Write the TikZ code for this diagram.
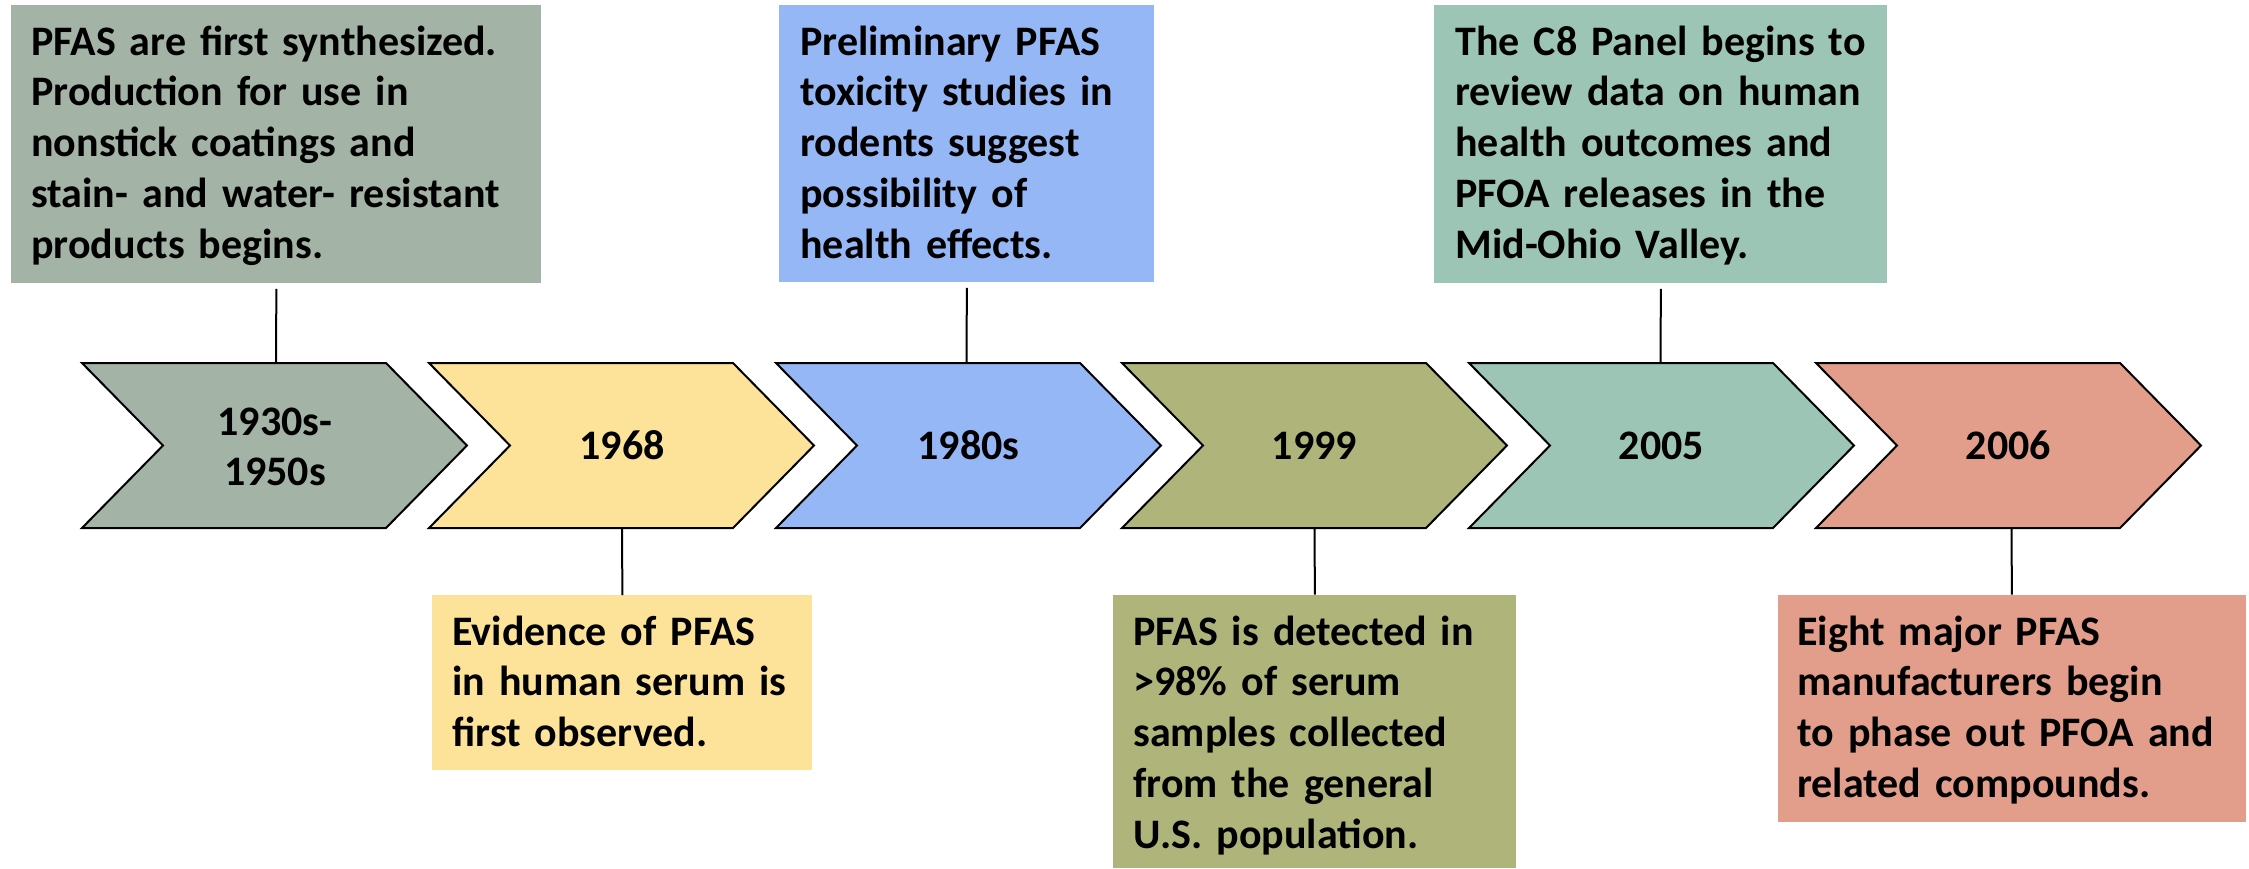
\documentclass[tikz,border=0pt]{standalone}
\usepackage{fontspec}
\setmainfont{Carlito}
\definecolor{cA}{HTML}{A3B3A6}
\definecolor{cB}{HTML}{FDE399}
\definecolor{cC}{HTML}{96B7F5}
\definecolor{cD}{HTML}{AFB57A}
\definecolor{cE}{HTML}{9DC5B5}
\definecolor{cF}{HTML}{E29D8B}
\tikzset{
  evbox/.style={draw=none, rectangle, inner sep=0pt, anchor=north west},
  evtext/.style={anchor=base west, inner sep=0pt, align=left, text width=250pt,
    font=\fontsize{21}{25.4}\selectfont\bfseries},
  yeartext/.style={anchor=base, inner sep=0pt, align=center,
    font=\fontsize{21}{25}\selectfont\bfseries},
  chev/.style={draw=black, line width=1pt, line join=miter},
  conn/.style={draw=black, line width=1pt},
}
\newcommand{\chevron}[2]{%
  \path[chev, fill=#2] (#1,363) -- ++(304,0) -- ++(81,82.5) -- ++(-81,82.5) -- ++(-304,0) -- ++(81,-82.5) -- cycle;}
\begin{document}
\begin{tikzpicture}[x=0.5pt,y=-0.5pt]
\useasboundingbox (0,0) rectangle (2249,868);
% chevrons
\chevron{82}{cA}
\chevron{429}{cB}
\chevron{776}{cC}
\chevron{1122}{cD}
\chevron{1469}{cE}
\chevron{1816}{cF}
% year labels
\node[yeartext, anchor=center] (y1) at (275,446.5) {1930s-\\1950s};
\node[yeartext] (y2) at (622,459.5) {1968};
\node[yeartext] (y3) at (968.5,459.5) {1980s};
\node[yeartext] (y4) at (1314.5,459.5) {1999};
\node[yeartext] (y5) at (1661.5,459.5) {2005};
\node[yeartext] (y6) at (2008.5,459.5) {2006};
% chevron edge coordinates
\coordinate (k1) at (276,363);
\coordinate (k2) at (622,528);
\coordinate (k3) at (966.5,363);
\coordinate (k4) at (1314.5,528);
\coordinate (k5) at (1660.5,363);
\coordinate (k6) at (2011.5,528);
% boxes
\node[evbox, fill=cA, minimum width=265pt, minimum height=139pt] (b1) at (11,5) {};
\node[evbox, fill=cB, minimum width=190pt, minimum height=87.5pt] (b2) at (432,595) {};
\node[evbox, fill=cC, minimum width=187.5pt, minimum height=138.5pt] (b3) at (779,5) {};
\node[evbox, fill=cD, minimum width=201.5pt, minimum height=136.5pt] (b4) at (1113,594.5) {};
\node[evbox, fill=cE, minimum width=226.5pt, minimum height=139pt] (b5) at (1434,5) {};
\node[evbox, fill=cF, minimum width=234pt, minimum height=113.5pt] (b6) at (1777.5,594.5) {};
% texts
\node[evtext] (t1) at (31,55) {PFAS are first synthesized.\\Production for use in\\nonstick coatings and\\stain- and water- resistant\\products begins.};
\node[evtext] (t2) at (452,645) {Evidence of PFAS\\in human serum is\\first observed.};
\node[evtext] (t3) at (800,55) {Preliminary PFAS\\toxicity studies in\\rodents suggest\\possibility of\\health effects.};
\node[evtext] (t4) at (1133,645) {PFAS is detected in\\>98\% of serum\\samples collected\\from the general\\U.S. population.};
\node[evtext] (t5) at (1455,55) {The C8 Panel begins to\\review data on human\\health outcomes and\\PFOA releases in the\\Mid-Ohio Valley.};
\node[evtext] (t6) at (1797,645) {Eight major PFAS\\manufacturers begin\\to phase out PFOA and\\related compounds.};
% connectors
\draw[conn, shorten <=2.5pt] (b1.south) -- (k1);
\draw[conn] (k2) -- (b2.north);
\draw[conn, shorten <=2.5pt] (b3.south) -- (k3);
\draw[conn] (k4) -- (b4.north);
\draw[conn, shorten <=2.5pt] (b5.south) -- (k5);
\draw[conn] (k6) -- (b6.north);
\end{tikzpicture}
\end{document}
